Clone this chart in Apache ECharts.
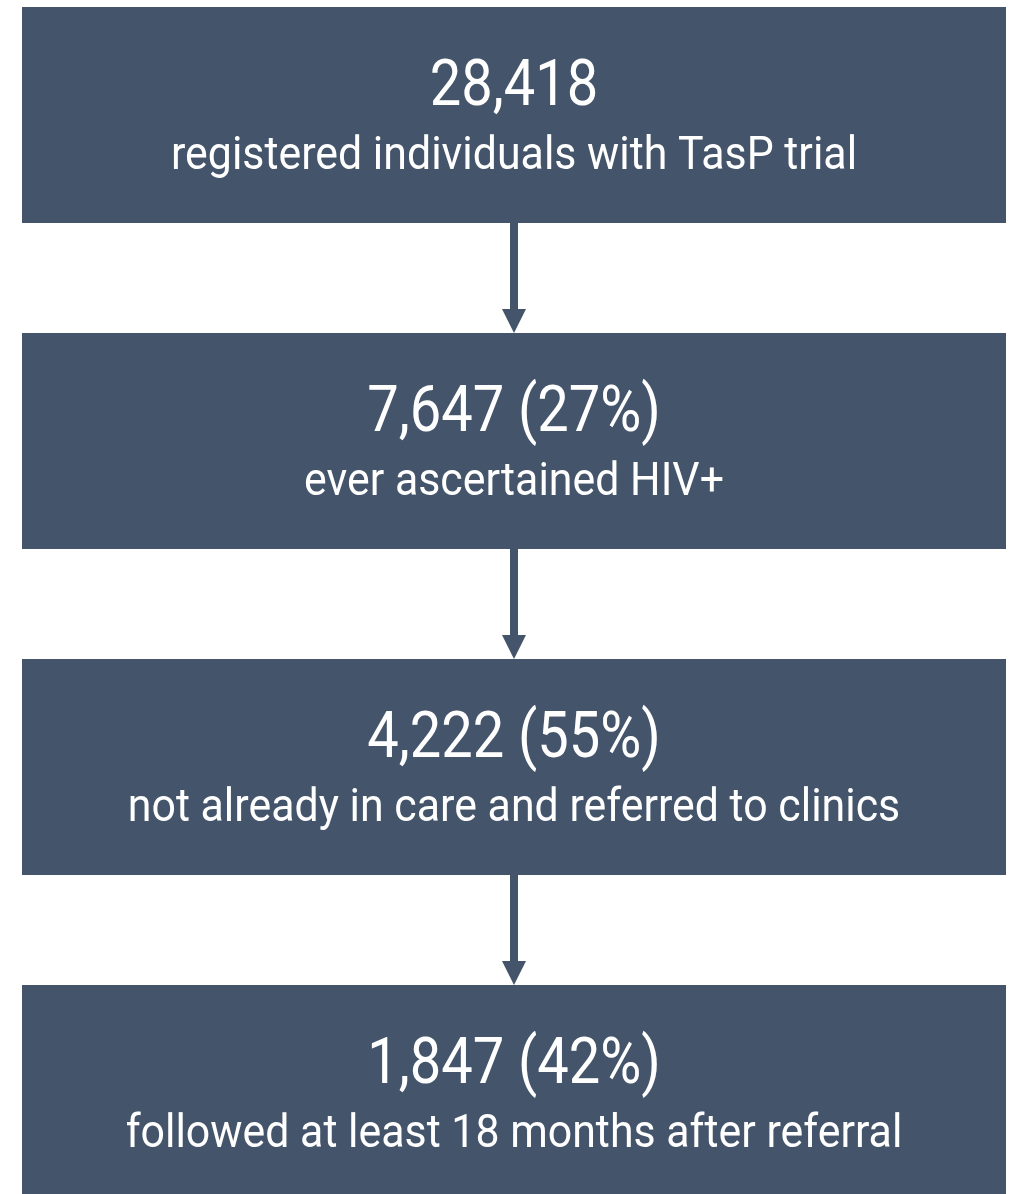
<!DOCTYPE html>
<html>
<head>
<meta charset="utf-8">
<script src="https://cdn.jsdelivr.net/npm/echarts@6/dist/echarts.min.js"></script>
<style>
html,body{margin:0;padding:0;background:#fff;}
#chart{width:1015px;height:1194px;}
</style>
</head>
<body>
<div id="chart"></div>
<script>
var stepCounts = [28418, 7647, 4222, 1847];
var stepPercents = [null, 27, 55, 42];
var stepLabels = [
  'registered individuals with TasP trial',
  'ever ascertained HIV+',
  'not already in care and referred to clinics',
  'followed at least 18 months after referral'
];

var BOX = '#44546a';
var FONT = 'Roboto, "Noto Sans", sans-serif';
var STEP_PX = 326;

function headline(i) {
  var s = stepCounts[i].toLocaleString('en-US');
  if (stepPercents[i] != null) s += ' (' + stepPercents[i] + '%)';
  return s;
}

var chart = echarts.init(document.getElementById('chart'), null, {renderer: 'canvas'});
chart.setOption({
  backgroundColor: '#ffffff',
  animation: false,
  grid: {left: 22, right: 9, top: 7, bottom: 0},
  xAxis: {type: 'value', min: 0, max: 1, show: false},
  yAxis: {type: 'value', min: 0, max: 1187 / STEP_PX, inverse: true, show: false},
  series: [{
    type: 'custom',
    clip: false,
    data: stepCounts.map(function (c, i) { return [i]; }),
    renderItem: function (params, api) {
      var i = api.value(0);
      var p0 = api.coord([0, i]);
      var p1 = api.coord([1, i + 1]);
      var band = p1[1] - p0[1];
      var k = band / STEP_PX;
      var boxH = 216 * k;
      var x0 = p0[0], x1 = p1[0], top = p0[1];
      var cx = (x0 + x1) / 2;
      var children = [
        {type: 'rect', shape: {x: x0, y: top, width: x1 - x0, height: boxH}, style: {fill: BOX}},
        {type: 'text', x: cx, y: top + 82 * k, scaleX: 0.862,
          style: {text: headline(i), fill: '#ffffff', font: '400 65px ' + FONT, textAlign: 'center', textVerticalAlign: 'middle'}},
        {type: 'text', x: cx, y: top + 150 * k, scaleX: 0.932,
          style: {text: stepLabels[i], fill: '#ffffff', font: '400 46px ' + FONT, textAlign: 'center', textVerticalAlign: 'middle'}}
      ];
      if (i < stepCounts.length - 1) {
        var headH = 24 * k;
        children.push({type: 'rect', shape: {x: cx - 4, y: top + boxH, width: 8, height: band - boxH - headH}, style: {fill: BOX}});
        children.push({type: 'polygon', shape: {points: [[cx - 12, top + band - headH], [cx + 12, top + band - headH], [cx, top + band]]}, style: {fill: BOX}});
      }
      return {type: 'group', children: children};
    }
  }]
});
</script>
</body>
</html>
